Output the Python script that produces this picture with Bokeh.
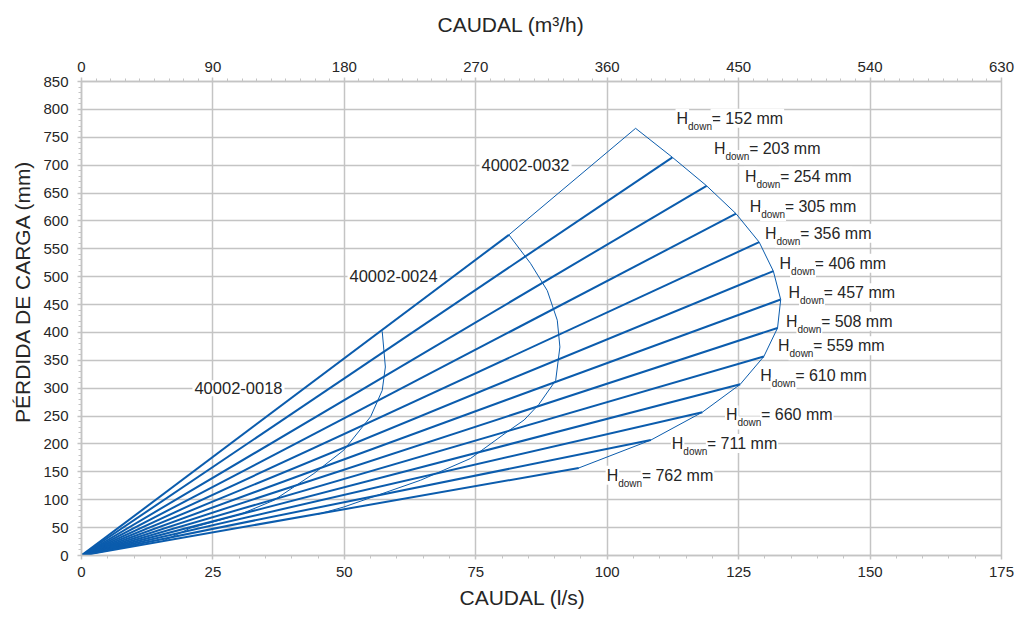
from bokeh.plotting import figure
from bokeh.models import Range1d, LinearAxis, SingleIntervalTicker, FixedTicker, Title, ColumnDataSource
from bokeh.core.properties import value
from bokeh.embed import file_html
from bokeh.resources import INLINE

# ---------------- data ----------------
h_down = [152, 203, 254, 305, 356, 406, 457, 508, 559, 610, 660, 711, 762]
# end of each H_down line (l/s, mm)
line_end_q = [81.3, 112.4, 118.9, 124.5, 128.9, 131.6, 133.0, 132.4, 129.8, 125.3, 118.1, 108.3, 94.6]
line_end_h = [575, 714, 663, 613, 562, 510, 459, 408, 357, 307, 257, 207, 157]

# pump curves
curve_0032_q = [81.3, 105.4, 112.4, 118.9, 124.5, 128.9, 131.6, 133.0, 132.4, 129.8, 125.3, 118.1, 108.3, 94.6]
curve_0032_h = [575, 766, 714, 663, 613, 562, 510, 459, 408, 357, 307, 257, 207, 157]
curve_0024_q = [81.3, 85.4, 88.6, 90.5, 91.0, 90.2, 87.0, 84.2, 81.0, 74.0, 64.5, 56.0, 49.9, 45.0]
curve_0024_h = [575, 524, 475, 422, 374, 314, 271, 243, 222, 174, 135, 107, 87, 74]
curve_0018_q = [57.2, 57.8, 57.2, 55.0, 49.9, 44.2, 36.6, 30.5, 25.0, 20.7, 15.5]
curve_0018_h = [402, 338, 296, 249, 189, 147, 99, 75, 60, 49, 26]

# labels
hlabel_q = [113.0, 120.1, 126.0, 126.9, 129.8, 132.6, 134.3, 133.8, 132.3, 128.9, 122.4, 112.1, 99.7]
hlabel_h = [784, 730, 680, 626, 578, 524, 471, 420, 376, 322, 252, 201, 144]
model_names = ["40002-0018", "40002-0024", "40002-0032"]
model_q = [21.1, 50.6, 75.7]
model_h = [300, 502, 701]

FONT = "Liberation Sans"
BLUE = "#0b5cad"
GRID = "#c4c4c4"
TXT = "#262626"

p = figure(width=1017, height=615, x_range=Range1d(0, 175), y_range=Range1d(0, 850),
           output_backend="svg", toolbar_location=None, title=None,
           min_border_left=81, min_border_right=16, min_border_top=81, min_border_bottom=60)
p.background_fill_color = "white"
p.border_fill_color = "white"
p.outline_line_color = GRID
p.outline_line_width = 1.5

p.extra_x_ranges = {"m3h": Range1d(0, 630)}
top_axis = LinearAxis(x_range_name="m3h", ticker=SingleIntervalTicker(interval=90, num_minor_ticks=9))
p.add_layout(top_axis, "above")
bottom_axis = p.below[0]
left_axis = p.left[0]
bottom_axis.ticker = SingleIntervalTicker(interval=25, num_minor_ticks=5)
left_axis.ticker = SingleIntervalTicker(interval=50, num_minor_ticks=5)

for ax in (top_axis, bottom_axis, left_axis):
    ax.axis_line_color = GRID
    ax.axis_line_width = 1.5
    ax.major_tick_line_color = GRID
    ax.minor_tick_line_color = GRID
    ax.major_tick_line_width = 1.5
    ax.major_tick_out = 4
    ax.major_tick_in = 0
    ax.minor_tick_out = 3
    ax.minor_tick_in = 0
    ax.major_label_text_font = FONT
    ax.major_label_text_font_size = "15px"
    ax.major_label_text_color = TXT

top_axis.major_label_standoff = 6
bottom_axis.major_label_standoff = 7
left_axis.major_label_standoff = 9

# blank spacer axes (white tick in an empty spot, no labels) that push the axis titles outward
def spacer_axis(size, tick, **kw):
    return LinearAxis(ticker=FixedTicker(ticks=[tick], minor_ticks=[]), axis_line_color=None,
                      major_tick_line_color="white", minor_tick_line_color=None,
                      major_tick_out=size, major_tick_in=0, minor_tick_out=0, minor_tick_in=0,
                      major_label_text_color=None, major_label_standoff=0, **kw)

p.add_layout(spacer_axis(23, 45, x_range_name="m3h"), "above")
p.add_layout(spacer_axis(3, 25), "left")

p.xgrid.ticker = bottom_axis.ticker
p.ygrid.ticker = left_axis.ticker
p.grid.grid_line_color = GRID
p.grid.grid_line_width = 1.5

def axis_title(txt, offset, standoff):
    return Title(text=txt, align="left", offset=offset, standoff=standoff,
                 text_font=FONT, text_font_size="21px", text_font_style="normal", text_color=TXT)

p.add_layout(axis_title("CAUDAL (m³/h)", 356, 0), "above")
p.add_layout(axis_title("CAUDAL (l/s)", 378, 9), "below")
p.add_layout(axis_title("PÉRDIDA DE CARGA (mm)", 132.5, 8), "left")

# H_down lines
p.multi_line(xs=[[0, q] for q in line_end_q], ys=[[0, h] for h in line_end_h],
             line_color=BLUE, line_width=2)
# pump curves
p.line(curve_0032_q, curve_0032_h, line_color=BLUE, line_width=1)
p.line(curve_0024_q, curve_0024_h, line_color=BLUE, line_width=1)
p.line(curve_0018_q, curve_0018_h, line_color=BLUE, line_width=1)

# labels
lab = ColumnDataSource(dict(x=hlabel_q, y=hlabel_h, eq=[f"= {h} mm" for h in h_down]))
common = dict(text_font=value(FONT), text_color=TXT, text_baseline="middle", text_align="left",
              background_fill_color="white", padding=1)
p.text(x="x", y="y", text="eq", source=lab, text_font_size="16px", x_offset=35, **common)
p.text(x="x", y="y", text=value("H"), source=lab, text_font_size="16px", **common)
p.text(x="x", y="y", text=value("down"), source=lab, text_font_size="10px", x_offset=11.5, y_offset=8, **common)

mod = ColumnDataSource(dict(x=model_q, y=model_h, t=model_names))
p.text(x="x", y="y", text="t", source=mod, text_font_size="16.5px", padding=2,
       text_font=value(FONT), text_color=TXT, text_baseline="middle", text_align="left",
       background_fill_color="white")

open("out.html", "w").write(file_html(p, INLINE))
